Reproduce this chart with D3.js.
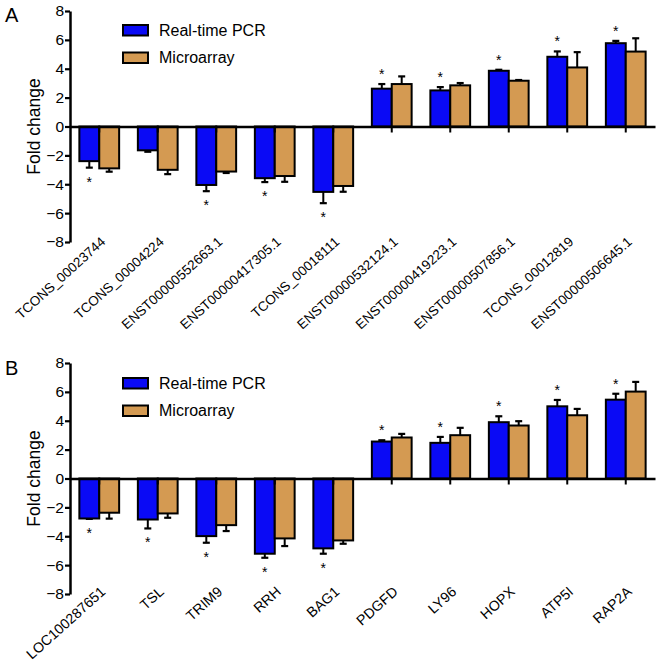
<!DOCTYPE html>
<html>
<head>
<meta charset="utf-8">
<script src="https://cdn.jsdelivr.net/npm/d3@7"></script>
<style>
  body { margin: 0; background: #fff; }
  svg { display: block; font-family: "Liberation Sans", Arial, sans-serif; }
</style>
</head>
<body>
<div id="chart"></div>
<script>
// panel A data
const catsA = ['TCONS_00023744', 'TCONS_00004224', 'ENST00000552663.1', 'ENST00000417305.1', 'TCONS_00018111',
               'ENST00000532124.1', 'ENST00000419223.1', 'ENST00000507856.1', 'TCONS_00012819', 'ENST00000506645.1'];
const pcrA = [-2.4, -1.65, -4.05, -3.58, -4.53, 2.62, 2.5, 3.86, 4.83, 5.77];
const pcrErrA = [0.45, 0.1, 0.43, 0.27, 0.78, 0.32, 0.23, 0.07, 0.37, 0.16];
const arrA = [-2.9, -3.0, -3.12, -3.43, -4.12, 2.94, 2.85, 3.17, 4.09, 5.19];
const arrErrA = [0.23, 0.3, 0.1, 0.4, 0.4, 0.53, 0.16, 0.05, 1.06, 0.92];
const sigA = [1, 0, 1, 1, 1, 1, 1, 1, 1, 1];

// panel B data
const catsB = ['LOC100287651', 'TSL', 'TRIM9', 'RRH', 'BAG1', 'PDGFD', 'LY96', 'HOPX', 'ATP5I', 'RAP2A'];
const pcrB = [-2.77, -2.84, -3.99, -5.21, -4.84, 2.56, 2.47, 3.9, 5.0, 5.46];
const pcrErrB = [0.03, 0.62, 0.46, 0.28, 0.37, 0.09, 0.41, 0.41, 0.44, 0.41];
const arrB = [-2.37, -2.42, -3.23, -4.15, -4.29, 2.84, 3.0, 3.67, 4.38, 6.02];
const arrErrB = [0.41, 0.3, 0.41, 0.53, 0.23, 0.25, 0.51, 0.3, 0.44, 0.67];
const sigB = [1, 1, 1, 1, 1, 1, 1, 1, 1, 1];

const yTicks = [-8, -6, -4, -2, 0, 2, 4, 6, 8];
const seriesNames = ['Real-time PCR', 'Microarray'];
const seriesColors = ['#0a0af5', '#d49a52'];

const W = 661, H = 667;
const svg = d3.select('#chart').append('svg').attr('width', W).attr('height', H);

function panel(opts) {
    const g = svg.append('g');
    const x0 = d3.scaleBand().domain(opts.cats).range([70, 655])
        .paddingInner(0.32).paddingOuter(0.16);
    const x1 = d3.scaleBand().domain([0, 1]).range([0, x0.bandwidth()]);
    const y = d3.scaleLinear().domain([-8, 8]).range([opts.bottom, opts.top]);

    const rows = opts.cats.map((c, i) => ({
        cat: c,
        vals: [{s: 0, v: opts.pcr[i], e: opts.pcrErr[i]}, {s: 1, v: opts.arr[i], e: opts.arrErr[i]}],
        sig: opts.sig[i]
    }));

    const grp = g.selectAll('g.grp').data(rows).join('g').attr('class', 'grp')
        .attr('transform', d => `translate(${x0(d.cat)},0)`);

    // error bars (one-sided, drawn behind the bars)
    grp.selectAll('g.err').data(d => d.vals).join('g').attr('class', 'err')
        .each(function(d) {
            const cx = x1(d.s) + x1.bandwidth() / 2;
            const tip = d.v >= 0 ? d.v + d.e : d.v - d.e;
            const sel = d3.select(this);
            sel.append('line').attr('x1', cx).attr('x2', cx).attr('y1', y(d.v)).attr('y2', y(tip))
                .attr('stroke', '#000').attr('stroke-width', 2);
            sel.append('line').attr('x1', cx - 3.5).attr('x2', cx + 3.5).attr('y1', y(tip)).attr('y2', y(tip))
                .attr('stroke', '#000').attr('stroke-width', 2.2);
        });

    grp.selectAll('rect').data(d => d.vals).join('rect')
        .attr('x', d => x1(d.s))
        .attr('width', x1.bandwidth())
        .attr('y', d => y(Math.max(0, d.v)))
        .attr('height', d => Math.abs(y(d.v) - y(0)))
        .attr('fill', d => seriesColors[d.s])
        .attr('stroke', '#000').attr('stroke-width', 2);

    // asterisks over the real-time PCR bar
    grp.filter(d => d.sig).append('text')
        .attr('x', x1(0) + x1.bandwidth() / 2)
        .attr('y', d => {
            const v = d.vals[0].v, e = d.vals[0].e;
            return v >= 0 ? y(v + e) - 5 : y(v - e) + 19;
        })
        .attr('text-anchor', 'middle').attr('font-size', 14).text('*');

    // y axis
    const yAxis = g.append('g').attr('transform', 'translate(70,0)')
        .call(d3.axisLeft(y).tickValues(yTicks).tickSize(5).tickSizeOuter(0).tickPadding(1));
    yAxis.select('.domain').attr('stroke-width', 2.5);
    yAxis.selectAll('.tick line').attr('stroke-width', 2.2);
    yAxis.selectAll('.tick text').attr('font-size', 15.5).attr('fill', '#000')
        .attr('font-family', '"Liberation Sans", Arial, sans-serif');

    // x axis at zero
    const xAxis = g.append('g').attr('transform', `translate(0,${y(0)})`)
        .call(d3.axisBottom(x0).tickSize(6).tickSizeOuter(0).tickFormat(''));
    xAxis.select('.domain').attr('stroke-width', 2.5);
    xAxis.selectAll('.tick line').attr('stroke-width', 2);

    // rotated category labels
    g.selectAll('text.cat').data(opts.cats).join('text').attr('class', 'cat')
        .attr('transform', d => `translate(${x0(d) + x0.bandwidth() / 2 + 7},${opts.bottom + opts.labOff}) rotate(-42)`)
        .attr('text-anchor', 'end').attr('font-size', opts.labSize).text(d => d);

    // y title
    g.append('text')
        .attr('transform', `translate(40,${(opts.top + opts.bottom) / 2}) rotate(-90)`)
        .attr('text-anchor', 'middle').attr('font-size', 17.5).text('Fold change');

    // panel letter
    g.append('text').attr('x', 5).attr('y', opts.top + opts.letterDy)
        .attr('font-size', 20).text(opts.letter);

    // legend
    const leg = g.selectAll('g.leg').data(seriesNames).join('g').attr('class', 'leg')
        .attr('transform', (d, i) => `translate(123,${opts.top + opts.legDy + i * 27.5})`);
    leg.append('rect').attr('width', 25).attr('height', 10.5)
        .attr('fill', (d, i) => seriesColors[i]).attr('stroke', '#000').attr('stroke-width', 2);
    leg.append('text').attr('x', 36).attr('y', 5.25).attr('dy', '0.35em')
        .attr('font-size', 16).text(d => d);
}

panel({letter: 'A', cats: catsA, pcr: pcrA, pcrErr: pcrErrA, arr: arrA, arrErr: arrErrA, sig: sigA,
       top: 11, bottom: 242, labOff: 1, labSize: 13.5, letterDy: 11, legDy: 14});
panel({letter: 'B', cats: catsB, pcr: pcrB, pcrErr: pcrErrB, arr: arrB, arrErr: arrErrB, sig: sigB,
       top: 363, bottom: 594, labOff: -1, labSize: 14.2, letterDy: 12, legDy: 15});
</script>
</body>
</html>
